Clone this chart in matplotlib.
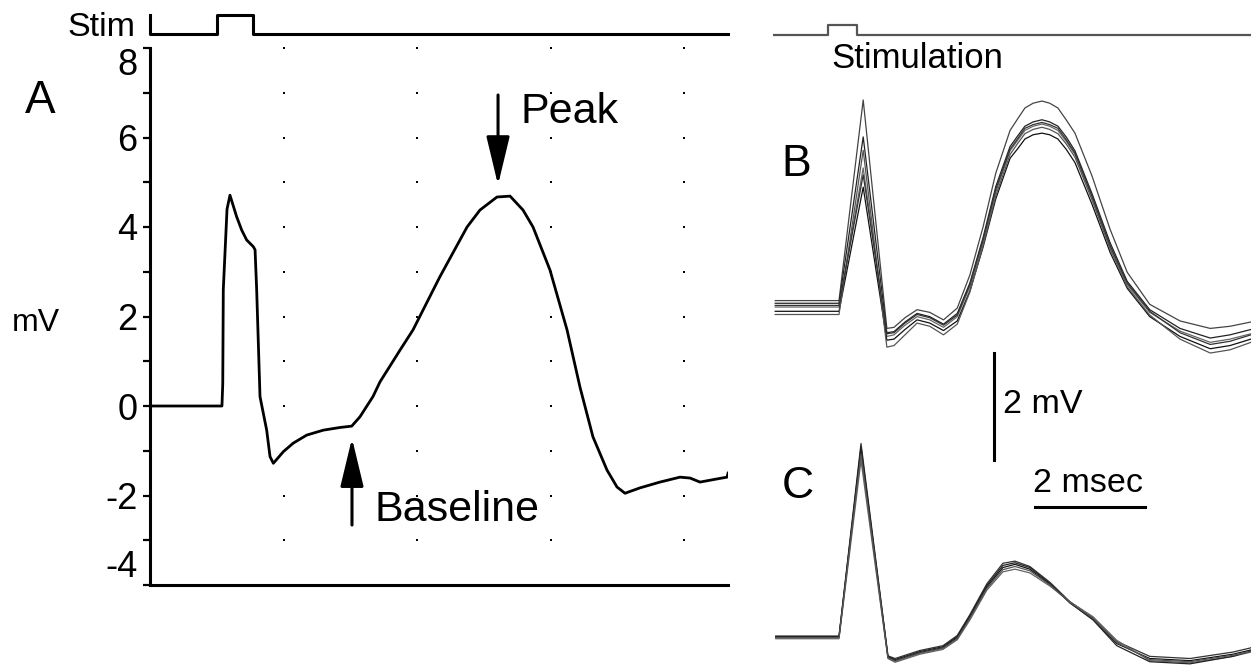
"""
Evoked field potential figure: averaged response (A) and overlaid sweeps (B, C).
"""
import numpy as np
import matplotlib.pyplot as plt

plt.rcParams['font.family'] = ['Liberation Sans', 'DejaVu Sans']

# ---- panel A: averaged response (x in grid divisions, y in mV) ----
a_time = [0, 0.539, 0.545, 0.549, 0.577, 0.599, 0.649, 0.687, 0.724, 0.774,
          0.787, 0.799, 0.824, 0.874, 0.899, 0.924, 0.999, 1.073, 1.174, 1.298,
          1.423, 1.511, 1.573, 1.670, 1.723, 1.873, 1.970, 2.170, 2.375, 2.472,
          2.599, 2.697, 2.794, 2.869, 2.996, 3.124, 3.221, 3.318, 3.423, 3.498,
          3.558, 3.670, 3.820, 3.970, 4.045, 4.120, 4.247, 4.322, 4.330]
a_mv = [0, 0, 0.5, 2.6, 4.4, 4.71, 4.23, 3.93, 3.71, 3.56,
        3.49, 2.6, 0.21, -0.54, -1.13, -1.28, -1.02, -0.83, -0.65, -0.54,
        -0.48, -0.45, -0.24, 0.21, 0.54, 1.25, 1.70, 2.88, 4.0, 4.38,
        4.67, 4.69, 4.38, 4.0, 3.04, 1.70, 0.42, -0.69, -1.43, -1.81,
        -1.95, -1.83, -1.70, -1.59, -1.61, -1.70, -1.63, -1.59, -1.5]
a_stim_t = [0, 0, 0.502, 0.502, 0.772, 0.772, 4.33]
a_stim_v = [8.74, 8.31, 8.31, 8.74, 8.74, 8.31, 8.31]
peak_at = (2.607, 4.94)
baseline_at = (1.513, -0.72)

# ---- panels B and C: overlaid sweeps (ms, mV relative to own baseline) ----
b_time = [0.04, 1.20, 1.64, 2.07, 2.20, 2.40, 2.62, 2.85, 3.10, 3.35, 3.58, 3.82, 4.05, 4.31, 4.45,
          4.58, 4.73, 4.89, 5.03, 5.18, 5.33, 5.49, 5.80, 6.13, 6.44, 6.85, 7.40, 7.95, 8.31, 8.69]
b_sweep1 = [0.12, 0.12, 3.87, -0.40, -0.38, -0.20, -0.05, -0.10, -0.24, -0.02, 0.60, 1.50, 2.50, 3.30, 3.52,
            3.72, 3.81, 3.85, 3.81, 3.72, 3.50, 3.25, 2.45, 1.45, 0.65, 0.05, -0.26, -0.40, -0.36, -0.28]
b_sweep2 = [0.07, 0.07, 3.18, -0.48, -0.46, -0.28, -0.12, -0.18, -0.32, -0.12, 0.45, 1.30, 2.25, 3.00, 3.20,
            3.38, 3.46, 3.50, 3.46, 3.38, 3.18, 2.92, 2.12, 1.20, 0.48, -0.05, -0.40, -0.58, -0.52, -0.42]
b_sweep3 = [0.00, 0.00, 2.60, -0.55, -0.52, -0.34, -0.18, -0.24, -0.38, -0.18, 0.38, 1.22, 2.15, 2.92, 3.12,
            3.30, 3.38, 3.42, 3.38, 3.30, 3.10, 2.85, 2.05, 1.12, 0.42, -0.10, -0.45, -0.66, -0.60, -0.50]
b_sweep4 = [-0.08, -0.08, 2.24, -0.62, -0.60, -0.42, -0.24, -0.30, -0.44, -0.26, 0.30, 1.12, 2.02, 2.78, 2.96,
            3.14, 3.22, 3.25, 3.22, 3.14, 2.95, 2.70, 1.92, 1.02, 0.35, -0.18, -0.55, -0.78, -0.72, -0.60]
b_sweep5 = [-0.14, -0.14, 2.93, -0.75, -0.72, -0.52, -0.30, -0.36, -0.52, -0.32, 0.28, 1.15, 2.08, 2.85, 3.06,
            3.24, 3.32, 3.36, 3.32, 3.24, 3.05, 2.80, 2.00, 1.08, 0.38, -0.15, -0.60, -0.86, -0.80, -0.66]
b_sweep6 = [0.03, 0.03, 2.47, -0.50, -0.48, -0.30, -0.14, -0.20, -0.34, -0.15, 0.42, 1.26, 2.20, 2.95, 3.15,
            3.34, 3.41, 3.45, 3.41, 3.34, 3.13, 2.88, 2.08, 1.15, 0.45, -0.08, -0.48, -0.70, -0.64, -0.52]

c_time = [0.05, 1.20, 1.60, 2.09, 2.22, 2.67, 3.09, 3.35, 3.58, 3.89, 4.18,
          4.40, 4.67, 5.04, 5.40, 5.82, 6.25, 6.85, 7.58, 8.36, 8.69]
c_sweep1 = [0.02, 0.02, 3.62, -0.35, -0.40, -0.25, -0.16, 0.03, 0.42, 1.00, 1.38,
            1.42, 1.32, 1.02, 0.66, 0.36, -0.08, -0.36, -0.40, -0.28, -0.20]
c_sweep2 = [0.00, 0.00, 3.50, -0.38, -0.44, -0.29, -0.20, -0.01, 0.37, 0.94, 1.30,
            1.36, 1.27, 0.98, 0.64, 0.33, -0.12, -0.40, -0.44, -0.32, -0.24]
c_sweep3 = [-0.03, -0.03, 3.30, -0.40, -0.47, -0.32, -0.23, -0.05, 0.32, 0.88, 1.22,
            1.27, 1.20, 0.95, 0.66, 0.38, -0.06, -0.44, -0.48, -0.36, -0.28]
c_sweep4 = [0.01, 0.01, 3.56, -0.36, -0.42, -0.27, -0.18, 0.01, 0.40, 0.97, 1.34,
            1.39, 1.30, 1.00, 0.64, 0.32, -0.16, -0.46, -0.50, -0.36, -0.26]
c_sweep5 = [-0.01, -0.01, 3.42, -0.39, -0.45, -0.30, -0.21, -0.03, 0.35, 0.91, 1.26,
            1.32, 1.24, 0.97, 0.65, 0.35, -0.10, -0.42, -0.46, -0.34, -0.27]

r_stim_t = [0, 1.0, 1.0, 1.527, 1.527, 8.69]
r_stim_v = [11.79, 11.79, 11.98, 11.98, 11.79, 11.79]
B_OFFSET = 6.71
C_OFFSET = 0.54
SCALE_MV = 2
SCALE_MS = 2

W, H = 1251, 666
fig = plt.figure(figsize=(W / 100, H / 100), dpi=100)

# ---------------- panel A ----------------
ax = fig.add_axes([150 / W, 81 / H, 578 / W, 537 / H])
ax.set_xlim(0, 578 / 133.5)
ax.set_ylim(-4, 8)
for side in ['top', 'right']:
    ax.spines[side].set_visible(False)
for side in ['left', 'bottom']:
    ax.spines[side].set_linewidth(2.2)

ax.set_xticks([])
ax.set_yticks(np.arange(-4, 9, 2))
ax.set_yticks(np.arange(-4, 9, 1), minor=True)
ax.set_yticklabels([str(v) for v in range(-4, 9, 2)])
ax.tick_params(axis='y', which='both', direction='out', length=5, width=1.6,
               labelsize=26, pad=4)
# end labels sit inside the axis extent, like the original
labels = ax.get_yticklabels()
labels[0].set_va('bottom')
labels[-1].set_va('top')

# dotted grid
gx, gy = np.meshgrid([1, 2, 3, 4], np.arange(-4, 9, 1))
ax.scatter(gx.ravel(), gy.ravel(), s=3, marker='s', color='black', lw=0, clip_on=False)

ax.plot(a_time, a_mv, color='black', lw=2.0)
ax.plot(a_stim_t, a_stim_v, color='black', lw=2.2, clip_on=False)

arrow = dict(arrowstyle='-|>,head_length=1.5,head_width=0.36', color='black',
             lw=2.2, shrinkA=0, shrinkB=0, mutation_scale=20)
ax.annotate('', xy=peak_at, xytext=(peak_at[0], 6.95), arrowprops=arrow)
ax.annotate('', xy=baseline_at, xytext=(baseline_at[0], -2.66), arrowprops=arrow)
ax.text(2.772, 6.57, 'Peak', fontsize=31, ha='left', va='center')
ax.text(1.685, -2.32, 'Baseline', fontsize=31, ha='left', va='center')

fig.text(135 / W, 1 - 27 / H, 'Stim', fontsize=24.5, ha='right', va='center')
fig.text(40 / W, 1 - 101 / H, 'A', fontsize=33, ha='center', va='center')
fig.text(36 / W, 1 - 323 / H, 'mV', fontsize=23, ha='center', va='center')

# ---------------- panels B, C ----------------
axr = fig.add_axes([773 / W, 0, 478 / W, 1])
axr.set_xlim(0, 478 / 55)
axr.set_ylim(0, 666 / 53.5)
axr.axis('off')

axr.plot(r_stim_t, r_stim_v, color='#555555', lw=1.6)
axr.text(1.07, 11.36, 'Stimulation', fontsize=25, ha='left', va='center')

b_colors = ['#444444', '#222222', '#666666', '#111111', '#555555', '#333333']
for sweep, col in zip([b_sweep1, b_sweep2, b_sweep3, b_sweep4, b_sweep5, b_sweep6], b_colors):
    axr.plot(b_time, np.array(sweep) + B_OFFSET, color=col, lw=0.9)

c_colors = ['#333333', '#111111', '#666666', '#222222', '#555555']
for sweep, col in zip([c_sweep1, c_sweep2, c_sweep3, c_sweep4, c_sweep5], c_colors):
    axr.plot(c_time, np.array(sweep) + C_OFFSET, color=col, lw=0.9)

axr.text(0.16, 9.38, 'B', fontsize=32, ha='left', va='center')
axr.text(0.16, 3.36, 'C', fontsize=32, ha='left', va='center')

# scale bars
axr.plot([4.018, 4.018], [3.85, 3.85 + SCALE_MV], color='black', lw=2.2)
axr.text(4.18, 4.88, f'{SCALE_MV} mV', fontsize=24.5, ha='left', va='center')
axr.plot([4.764, 4.764 + SCALE_MS], [2.97, 2.97], color='black', lw=2.2)
axr.text(4.727, 3.42, f'{SCALE_MS} msec', fontsize=24.5, ha='left', va='center')

fig.savefig('out.png', dpi=100)
plt.close(fig)
